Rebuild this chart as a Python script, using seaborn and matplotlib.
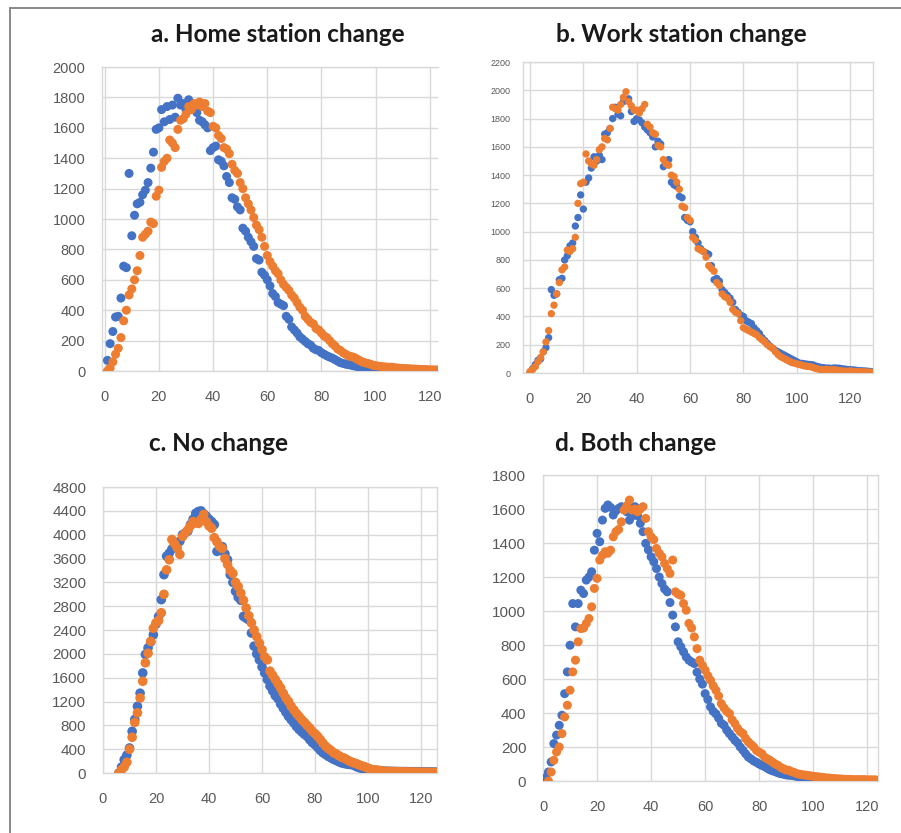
import matplotlib
matplotlib.use("Agg")
import matplotlib.pyplot as plt
from matplotlib.lines import Line2D
import seaborn as sns
import pandas as pd

# ------------------------------------------------------------
# data (one value per time step)
# ------------------------------------------------------------
home_blue = [70, 180, 260, 355, 360, 480, 690, 680, 1300, 890,
             1025, 1100, 1110, 1160, 1190, 1240, 1335, 1440, 1590, 1600,
             1720, 1640, 1740, 1655, 1750, 1670, 1795, 1750, 1760, 1720,
             1785, 1740, 1750, 1700, 1650, 1640, 1620, 1600, 1450, 1470,
             1480, 1390, 1380, 1350, 1280, 1240, 1140, 1130, 1080, 1060,
             940, 920, 880, 850, 820, 740, 730, 650, 630, 600,
             560, 510, 490, 450, 440, 430, 360, 340, 290, 270,
             250, 225, 210, 195, 180, 170, 150, 140, 135, 120,
             110, 100, 92, 85, 75, 65, 55, 50, 45, 42,
             38, 34, 30, 27, 25, 22, 20, 18, 16, 15,
             14, 13, 12, 11, 10, 10, 9, 9, 8, 8,
             7, 7, 6, 6, 5, 5, 5, 4, 4, 4,
             3, 3, 3]
home_orange = [0, 20, 60, 110, 150, 220, 330, 400, 500, 540,
               600, 660, 760, 880, 900, 920, 980, 970, 1150, 1190,
               1340, 1380, 1400, 1520, 1500, 1470, 1590, 1650, 1660, 1690,
               1740, 1720, 1760, 1750, 1770, 1740, 1760, 1710, 1700, 1610,
               1600, 1550, 1530, 1470, 1460, 1430, 1360, 1320, 1300, 1240,
               1200, 1140, 1100, 1060, 1010, 960, 930, 880, 820, 760,
               720, 690, 660, 640, 600, 570, 550, 530, 500, 480,
               450, 420, 400, 360, 340, 320, 310, 280, 270, 250,
               230, 220, 200, 180, 165, 145, 135, 120, 110, 100,
               95, 90, 80, 70, 60, 55, 50, 45, 38, 35,
               32, 30, 28, 26, 25, 25, 22, 20, 18, 17,
               16, 15, 14, 13, 12, 11, 10, 10, 9, 8,
               8, 7, 7]

work_blue = [0, 30, 60, 90, 100, 150, 180, 250, 590, 550,
             560, 660, 670, 800, 830, 900, 920, 1040, 1100, 1260,
             1160, 1350, 1380, 1450, 1530, 1500, 1540, 1510, 1690, 1700,
             1730, 1800, 1880, 1830, 1820, 1920, 1930, 1940, 1850, 1780,
             1800, 1790, 1770, 1740, 1720, 1700, 1670, 1600, 1640, 1620,
             1460, 1500, 1510, 1350, 1330, 1320, 1250, 1240, 1100, 1080,
             1070, 1000, 960, 920, 880, 860, 850, 840, 760, 660,
             670, 650, 590, 570, 550, 530, 500, 450, 430, 410,
             400, 370, 360, 350, 320, 300, 280, 250, 230, 210,
             190, 175, 160, 150, 140, 130, 120, 110, 100, 90,
             80, 70, 68, 65, 62, 60, 58, 50, 45, 40,
             38, 35, 35, 33, 36, 35, 34, 30, 28, 25,
             24, 22, 20, 18, 16, 15, 14, 12, 10]
work_orange = [10, 25, 45, 80, 110, 150, 220, 300, 420, 480,
               560, 640, 730, 750, 870, 860, 880, 960, 1200, 1340,
               1350, 1550, 1500, 1480, 1470, 1510, 1580, 1600, 1660, 1650,
               1730, 1880, 1870, 1860, 1900, 1950, 1990, 1920, 1890, 1860,
               1860, 1840, 1870, 1900, 1760, 1740, 1700, 1690, 1610, 1600,
               1510, 1480, 1470, 1400, 1390, 1350, 1300, 1180, 1170, 1100,
               1080, 960, 940, 880, 870, 860, 820, 760, 740, 720,
               640, 620, 560, 540, 530, 500, 450, 430, 420, 370,
               320, 310, 300, 290, 280, 270, 250, 235, 220, 200,
               185, 175, 150, 130, 115, 105, 95, 85, 75, 70,
               65, 60, 55, 50, 47, 45, 40, 32, 28, 25,
               24, 26, 24, 22, 24, 20, 18, 15, 14, 12,
               15, 12, 10, 12, 10, 8, 8, 6, 6]

none_blue = [0, 100, 224, 300, 420, 700, 900, 1120, 1340, 1680,
             1990, 2100, 2200, 2320, 2500, 2630, 2910, 3330, 3640, 3690,
             3760, 3830, 3860, 3890, 4000, 4030, 4060, 4170, 4260, 4360,
             4390, 4400, 4350, 4310, 4260, 4220, 4170, 3720, 3750, 3800,
             3680, 3580, 3330, 3200, 3050, 2950, 2900, 2630, 2600, 2570,
             2350, 2130, 2000, 1900, 1780, 1680, 1570, 1460, 1380, 1300,
             1250, 1160, 1090, 1020, 950, 895, 840, 780, 730, 690,
             650, 615, 560, 510, 475, 430, 380, 340, 310, 280,
             255, 230, 210, 190, 170, 160, 150, 145, 140, 120,
             100, 85, 75, 65, 58, 55, 50, 45, 40, 35,
             30, 30, 28, 28, 26, 26, 25, 24, 24, 23,
             22, 22, 21, 20, 20, 19, 18, 18, 17, 16,
             15]
none_orange = [0, 56, 100, 180, 400, 600, 850, 1010, 1260, 1540,
               1850, 2010, 2210, 2430, 2520, 2560, 2690, 3000, 3410, 3580,
               3920, 3850, 3780, 3670, 3970, 4030, 4080, 4150, 4220, 4200,
               4190, 4260, 4340, 4220, 4150, 4110, 3950, 3880, 3800, 3770,
               3600, 3500, 3400, 3350, 3200, 3130, 3020, 2900, 2770, 2640,
               2520, 2400, 2290, 2180, 2070, 1950, 1900, 1710, 1640, 1570,
               1500, 1430, 1340, 1260, 1200, 1120, 1060, 1000, 950, 895,
               850, 800, 755, 700, 660, 615, 560, 500, 450, 410,
               380, 340, 320, 290, 265, 250, 225, 200, 180, 165,
               150, 130, 115, 100, 80, 65, 56, 50, 45, 40,
               30, 28, 26, 25, 24, 22, 20, 20, 18, 18,
               16, 15, 15, 14, 14, 13, 12, 12, 11, 10,
               10]

both_blue = [20, 53, 112, 220, 270, 328, 387, 514, 642, 799,
             1044, 907, 1044, 1123, 1103, 1182, 1200, 1231, 1358, 1457,
             1408, 1535, 1604, 1624, 1610, 1565, 1590, 1604, 1614, 1600,
             1584, 1535, 1560, 1614, 1560, 1516, 1467, 1398, 1360, 1319,
             1290, 1250, 1200, 1162, 1130, 1113, 1050, 976, 907, 819,
             790, 760, 730, 711, 700, 691, 640, 600, 570, 514,
             480, 436, 410, 395, 370, 340, 328, 300, 279, 260,
             240, 225, 200, 181, 160, 141, 130, 118, 110, 100,
             92, 85, 75, 66, 60, 55, 48, 43, 40, 36,
             34, 33, 30, 27, 24, 21, 20, 18, 17, 16,
             15, 14, 12, 11, 10, 9, 8, 6, 5, 5,
             5, 6, 5, 5, 4, 4, 5, 4, 4, 3,
             3, 3, 3]
both_orange = [0, 53, 122, 171, 200, 279, 377, 446, 534, 642,
               711, 819, 897, 900, 927, 956, 1025, 1133, 1192, 1300,
               1329, 1349, 1340, 1358, 1437, 1467, 1480, 1525, 1594, 1620,
               1653, 1594, 1600, 1584, 1600, 1614, 1545, 1467, 1437, 1420,
               1368, 1340, 1319, 1280, 1250, 1221, 1300, 1113, 1100, 1093,
               1044, 1005, 927, 900, 848, 779, 711, 680, 652, 620,
               593, 560, 534, 500, 455, 430, 410, 397, 360, 338,
               310, 290, 279, 250, 230, 215, 200, 180, 170, 161,
               140, 130, 122, 110, 100, 92, 80, 72, 65, 63,
               55, 50, 43, 40, 37, 35, 33, 30, 28, 26,
               24, 22, 20, 18, 17, 15, 14, 13, 12, 11,
               10, 10, 9, 8, 8, 8, 8, 8, 7, 7,
               7, 7]

# first time step of each series
START = {"home_blue": 1, "home_orange": 1, "work_blue": 0, "work_orange": 0,
         "none_blue": 6, "none_orange": 6, "both_blue": 1, "both_orange": 2}

BLUE = "#4472C4"
ORANGE = "#ED7D31"
GRID = "#d9d9d9"
TICK = "#595959"

panels = [
    # title, blue, orange, key, axes rect, xlim, ymax, ystep, tick size, marker size, title pos
    ("a. Home station change", home_blue, home_orange, "home",
     [0.1132, 0.5546, 0.3729, 0.3649], (-1, 123), 2000, 200, 10.5, 42, (0.308, 0.958)),
    ("b. Work station change", work_blue, work_orange, "work",
     [0.5805, 0.5522, 0.3885, 0.3733], (-2.6, 128.6), 2200, 200, 6.5, 28, (0.756, 0.958)),
    ("c. No change", none_blue, none_orange, "none",
     [0.1143, 0.0720, 0.3707, 0.3433], (0, 126), 4800, 400, 11, 48, (0.243, 0.468)),
    ("d. Both change", both_blue, both_orange, "both",
     [0.6027, 0.0624, 0.3718, 0.3673], (0, 124), 1800, 200, 11, 42, (0.706, 0.468)),
]


def to_frame(blue, orange, key):
    xb = list(range(START[key + "_blue"], START[key + "_blue"] + len(blue)))
    xo = list(range(START[key + "_orange"], START[key + "_orange"] + len(orange)))
    return pd.DataFrame({
        "t": xb + xo,
        "n": blue + orange,
        "series": ["blue"] * len(blue) + ["orange"] * len(orange),
    })


sns.set_style("white")
plt.rcParams["font.family"] = ["Liberation Sans", "DejaVu Sans"]

fig = plt.figure(figsize=(9.01, 8.33), dpi=100)

for title, blue, orange, key, rect, xlim, ymax, ystep, tsize, msize, tpos in panels:
    ax = fig.add_axes(rect)
    df = to_frame(blue, orange, key)
    sns.scatterplot(data=df, x="t", y="n", hue="series",
                    palette={"blue": BLUE, "orange": ORANGE},
                    s=msize, linewidth=0, alpha=1, legend=False, ax=ax, zorder=3)
    ax.set_xlim(*xlim)
    ax.set_ylim(0, ymax)
    ax.set_xticks(range(0, 121, 20))
    ax.set_yticks(range(0, ymax + 1, ystep))
    ax.grid(True, color=GRID, linewidth=1.0)
    ax.set_axisbelow(True)
    for side in ["top", "right", "left", "bottom"]:
        ax.spines[side].set_color(GRID)
        ax.spines[side].set_linewidth(1.0)
    if key == "home":
        ax.spines["right"].set_visible(False)
    ax.tick_params(length=0, colors=TICK, labelsize=tsize, pad=12 if key != "work" else 9)
    ax.tick_params(axis="x", labelsize=10.5, pad=14)
    ax.set_xlabel("")
    ax.set_ylabel("")
    fig.text(tpos[0], tpos[1], title, ha="center", va="center",
             fontsize=17.5, fontweight="bold", color="#1a1a1a",
             family=["Lato", "DejaVu Sans"])

# outer frame of the original screenshot
fig.add_artist(Line2D([10 / 901, 10 / 901], [0, 1 - 8 / 833], color="#808080", linewidth=1.3))
fig.add_artist(Line2D([10 / 901, 1], [1 - 8 / 833, 1 - 8 / 833], color="#808080", linewidth=1.3))

fig.savefig("out.png", dpi=100)
